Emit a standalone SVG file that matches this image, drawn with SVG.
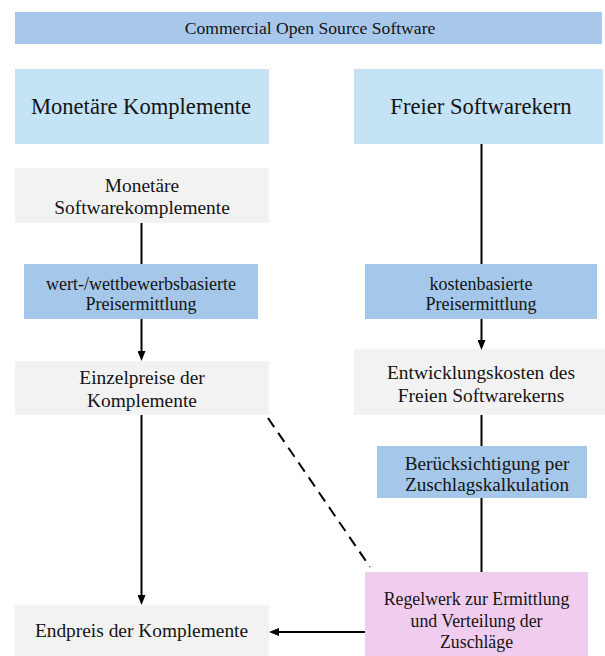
<svg xmlns="http://www.w3.org/2000/svg" width="605" height="656" viewBox="0 0 605 656">
  <style>
    text { font-family: "Liberation Serif", "Times New Roman", serif; fill: #141414; text-anchor: middle; }
    .title { font-size: 17.6px; }
    .big { font-size: 22.6px; }
    .gray { font-size: 19.4px; }
    .mid { font-size: 18px; }
    .hdr { fill: #a7c8ea; }
    .col { fill: #c4e3f4; }
    .g { fill: #f2f2f2; }
    .b { fill: #a5c7ea; }
    .p { fill: #f0cdee; }
    .ln { stroke: #000; stroke-width: 2; fill: none; }
    .dash { stroke: #000; stroke-width: 2; fill: none; stroke-dasharray: 11 7; }
  </style>
  <defs>
    <marker id="arr" markerUnits="userSpaceOnUse" markerWidth="10" markerHeight="8" refX="5" refY="4" orient="auto">
      <path d="M0,0 L10,4 L0,8 z" fill="#000"/>
    </marker>
  </defs>
  <rect width="605" height="656" fill="#fff"/>

  <g id="n-cos">
    <rect class="hdr" x="15" y="12" width="587" height="32"/>
    <text class="title" x="310" y="34">Commercial Open Source Software</text>
  </g>
  <g id="n-monetaere-komplemente">
    <rect class="col" x="15" y="69" width="254" height="75"/>
    <text class="big" x="141" y="114">Monetäre Komplemente</text>
  </g>
  <g id="n-freier-softwarekern">
    <rect class="col" x="354" y="69" width="249" height="75"/>
    <text class="big" x="481" y="114">Freier Softwarekern</text>
  </g>
  <g id="n-softwarekomplemente">
    <rect class="g" x="15" y="168" width="254" height="55"/>
    <text class="gray" x="142" y="191.5">Monetäre</text>
    <text class="gray" x="142" y="214">Softwarekomplemente</text>
  </g>
  <g id="n-wert">
    <rect class="b" x="24" y="264" width="234" height="55"/>
    <text class="mid" x="141" y="290">wert-/wettbewerbsbasierte</text>
    <text class="mid" x="141" y="309.5">Preisermittlung</text>
  </g>
  <g id="n-kosten">
    <rect class="b" x="365" y="264" width="232" height="55"/>
    <text class="mid" x="481" y="290">kostenbasierte</text>
    <text class="mid" x="481" y="309.5">Preisermittlung</text>
  </g>
  <g id="n-einzelpreise">
    <rect class="g" x="15" y="361" width="254" height="54"/>
    <text class="gray" x="142" y="383.5">Einzelpreise der</text>
    <text class="gray" x="142" y="406.5">Komplemente</text>
  </g>
  <g id="n-entwicklungskosten">
    <rect class="g" x="354" y="349" width="251" height="66"/>
    <text class="gray" x="481" y="378.5">Entwicklungskosten des</text>
    <text class="gray" x="481" y="401.5">Freien Softwarekerns</text>
  </g>
  <g id="n-beruecksichtigung">
    <rect class="b" x="377" y="446" width="210" height="52"/>
    <text class="gray" style="font-size:19.2px" x="487" y="469.5">Berücksichtigung per</text>
    <text class="gray" style="font-size:19.2px" x="487" y="490.5">Zuschlagskalkulation</text>
  </g>
  <g id="n-regelwerk">
    <rect class="p" x="365" y="572" width="223" height="84"/>
    <text class="mid" style="font-size:17.8px" x="476.5" y="605">Regelwerk zur Ermittlung</text>
    <text class="mid" style="font-size:17.8px" x="476.5" y="626.5">und Verteilung der</text>
    <text class="mid" style="font-size:17.8px" x="476.5" y="648">Zuschläge</text>
  </g>
  <g id="n-endpreis">
    <rect class="g" x="15" y="605" width="254" height="51"/>
    <text class="gray" x="141.5" y="637">Endpreis der Komplemente</text>
  </g>

  <g id="connectors">
    <line class="ln" x1="141.5" y1="223" x2="141.5" y2="264"/>
    <line class="ln" x1="141.5" y1="319" x2="141.5" y2="356" marker-end="url(#arr)"/>
    <line class="ln" x1="141.5" y1="415" x2="141.5" y2="600" marker-end="url(#arr)"/>
    <line class="ln" x1="481.5" y1="144" x2="481.5" y2="264"/>
    <line class="ln" x1="481.5" y1="319" x2="481.5" y2="345" marker-end="url(#arr)"/>
    <line class="ln" x1="481.5" y1="415" x2="481.5" y2="446"/>
    <line class="ln" x1="481.5" y1="498" x2="481.5" y2="572"/>
    <line class="ln" x1="365" y1="632" x2="274" y2="632" marker-end="url(#arr)"/>
    <line class="dash" x1="268" y1="418" x2="370" y2="567"/>
  </g>
</svg>
